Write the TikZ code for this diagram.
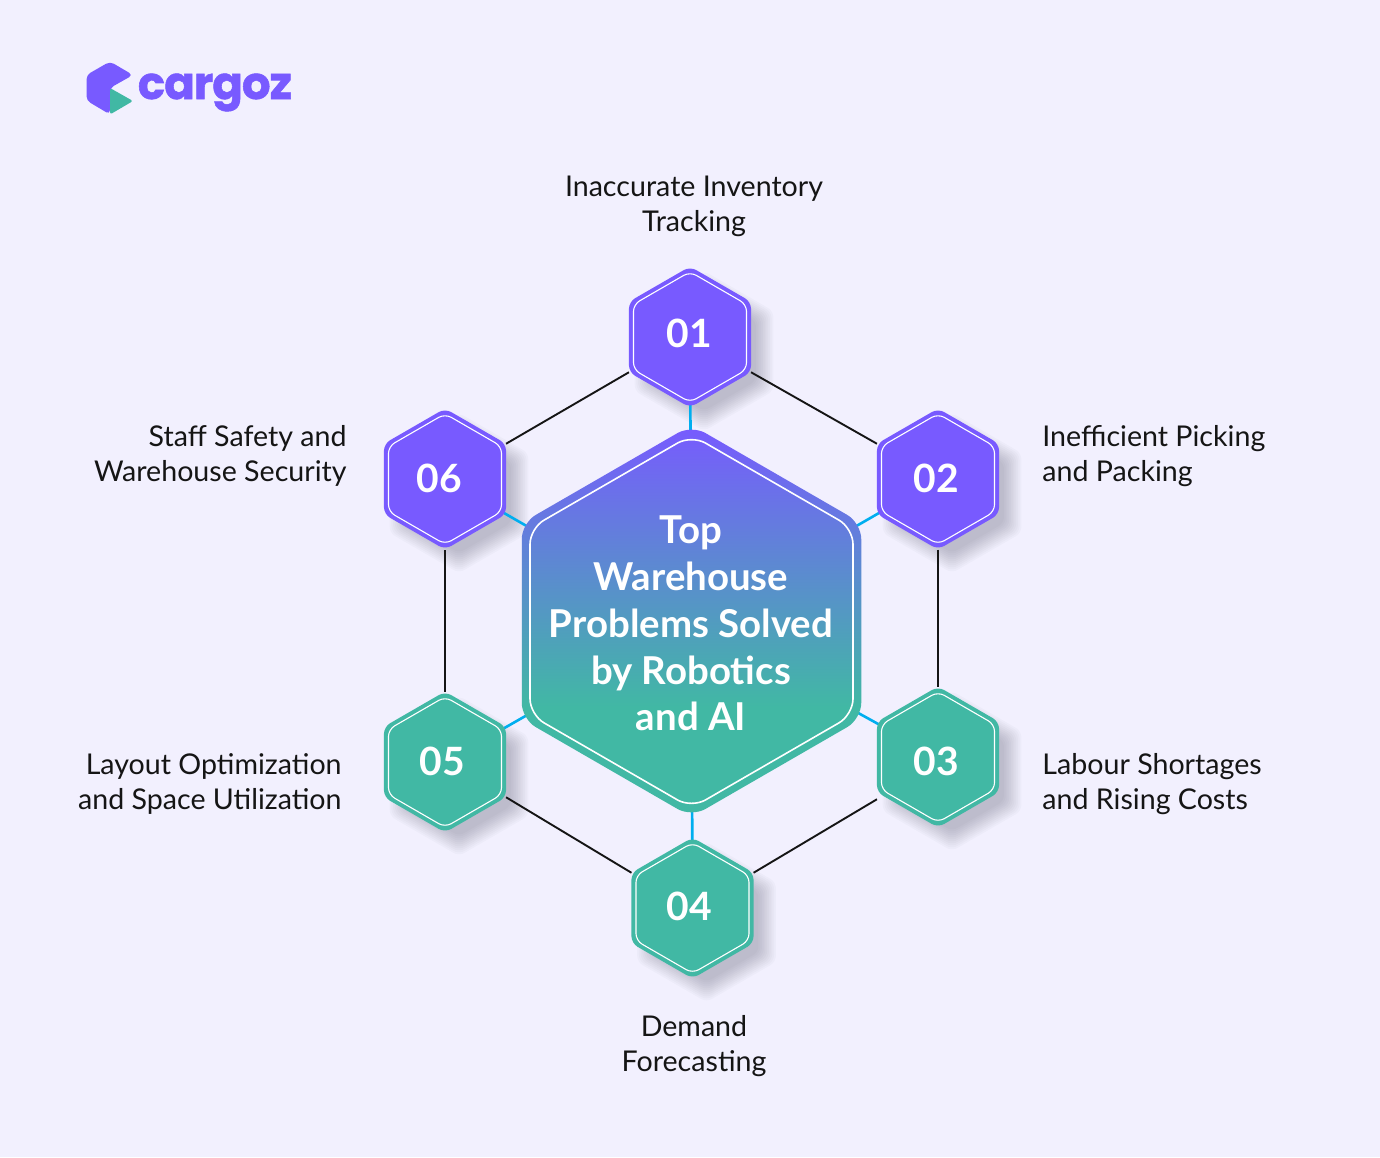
\documentclass[tikz,border=0pt]{standalone}
\usepackage{fontspec}
\setmainfont{Lato}
\newfontfamily\logofont[FakeBold=1.2,LetterSpace=-2]{Poppins Bold}
\usetikzlibrary{shapes.geometric,calc}
\pgfdeclarelayer{shad}
\pgfdeclarelayer{lin}
\pgfsetlayers{shad,lin,main}
\definecolor{bgc}{HTML}{F2F0FE}
\definecolor{purp}{HTML}{785AFF}
\definecolor{teal}{HTML}{41B8A4}
\definecolor{linkb}{HTML}{00AEEF}
\definecolor{shadc}{HTML}{3A3A50}
\definecolor{ink}{HTML}{151515}
\pgfdeclareverticalshading{hubshade}{100bp}{color(0bp)=(teal);color(39bp)=(teal);color(75bp)=(purp);color(100bp)=(purp)}
\tikzset{
  hexbase/.style={shape=regular polygon,regular polygon sides=6,shape border rotate=-30,inner sep=0pt,outer sep=0pt},
  hexo/.style={hexbase,minimum size=70.5pt,rounded corners=3.5pt},
  hexi/.style={hexbase,minimum size=65.25pt,rounded corners=3.5pt,draw=white,line width=0.55pt},
  hexnum/.style={inner sep=0pt,text=white,font=\fontsize{19.5}{22}\selectfont\bfseries},
  hubo/.style={hexbase,minimum size=196pt,rounded corners=8pt,shading=hubshade},
  hubi/.style={hexbase,minimum size=186.5pt,rounded corners=8pt,draw=white,line width=0.8pt},
  hubt/.style={align=center,text=white,font=\fontsize{19.2}{23.4}\selectfont\bfseries},
  lab/.style={font=\fontsize{14.3}{17.5}\selectfont,text=ink,inner sep=0pt},
  blk/.style={draw=ink,line width=0.95pt},
  blu/.style={draw=linkb,line width=1.3pt},
}
\newcommand{\hexa}[7]{%
  \begin{pgfonlayer}{shad}
  \foreach \r in {60,62,...,80}{
    \node[hexbase,minimum size=\r pt,rounded corners=3pt,fill=shadc,fill opacity=0.026] at ($(#2,#3)+(14,14)$) {};
  }
  \end{pgfonlayer}
  \node[hexo,fill=#4] (#1) at (#2,#3) {};
  \node[hexi] (#1i) at (#2,#3) {};
  \node[hexnum] (#1t) at (#6,#7) {#5};
}
\begin{document}
\begin{tikzpicture}[x=0.5pt,y=-0.5pt]
\begin{pgfonlayer}{shad}
\fill[bgc] (0,0) rectangle (1380,1157);
\end{pgfonlayer}
\useasboundingbox (0,0) rectangle (1380,1157);
% logo
\fill[purp,rounded corners=2.2pt] (110,61.5) -- (133,75) -- (110,88) -- (110,114.5) -- (86.5,100.5) -- (86.5,75) -- cycle;
\fill[teal,rounded corners=1.2pt] (110,88) -- (133,101) -- (110,114.5) -- cycle;
\node[inner sep=0pt,anchor=base west,text=purp,font=\fontsize{22.5}{26}\logofont] (logo) at (137.5,99) {cargoz};
% hub
\node[hubo] (hub) at (691.5,621) {};
\node[hubi] (hubin) at (691.5,621.5) {};
\node[hubt] (hubtext) at (691,623.5) {Top\\Warehouse\\Problems Solved\\by Robotics\\and AI};
% hexes
\hexa{h1}{690}{337}{purp}{01}{689.5}{333}
\hexa{h2}{938}{479}{purp}{02}{936}{478}
\hexa{h3}{938}{757}{teal}{03}{936}{761}
\hexa{h4}{692.5}{908}{teal}{04}{689.5}{906}
\hexa{h5}{445}{762}{teal}{05}{442}{761}
\hexa{h6}{445}{479}{purp}{06}{439.5}{478}
\begin{pgfonlayer}{lin}
\foreach \h in {h1,h2,h3,h4,h5,h6}{\draw[blu] (hub.center) -- (\h.center);}
\draw[blk] (h1.corner 6) -- (h2.corner 3);
\draw[blk] (h2.corner 5) -- (h3.corner 2);
\draw[blk] ([shift={(0,7)}]h3.corner 4) -- (h4.corner 1);
\draw[blk] (h4.corner 3) -- (h5.corner 6);
\draw[blk] (h5.corner 2) -- (h6.corner 5);
\draw[blk] (h6.corner 1) -- (h1.corner 4);
\end{pgfonlayer}
% labels
\node[lab,align=center] (l1) at (694,206) {Inaccurate Inventory\\Tracking};
\node[lab,align=left,anchor=west] (l2) at (1042,456) {Inefficient Picking\\and Packing};
\node[lab,align=left,anchor=west] (l3) at (1042,784) {Labour Shortages\\and Rising Costs};
\node[lab,align=center] (l4) at (694,1046) {Demand\\Forecasting};
\node[lab,align=right,anchor=east] (l5) at (342,784) {Layout Optimization\\and Space Utilization};
\node[lab,align=right,anchor=east] (l6) at (347,456) {Staff Safety and\\Warehouse Security};
\end{tikzpicture}
\end{document}
